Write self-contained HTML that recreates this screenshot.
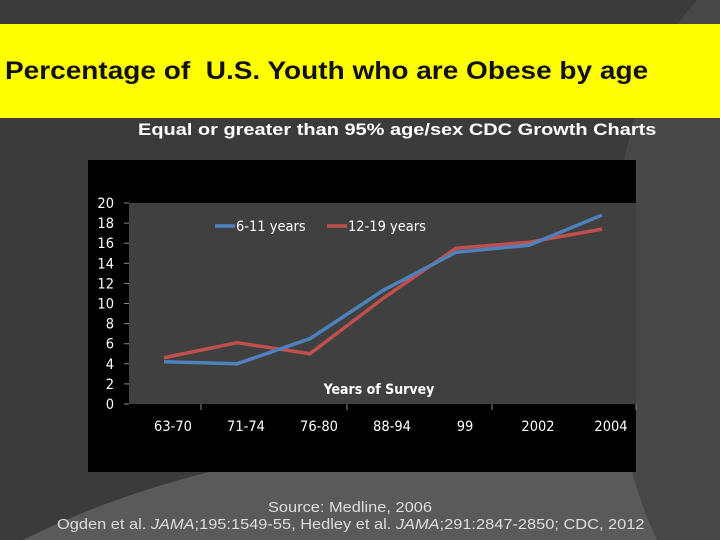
<!DOCTYPE html>
<html><head><meta charset="utf-8"><style>
html,body{margin:0;width:720px;height:540px;overflow:hidden}
body{background:#3b3b3b;font-family:"Liberation Sans",sans-serif;position:relative}
.sx{position:absolute;white-space:nowrap;transform-origin:0 0;line-height:1.15}
</style></head><body>
<svg width="720" height="540" style="position:absolute;left:0;top:0">
<ellipse cx="560" cy="760" rx="720" ry="330" fill="#5a5a5a"/>
<ellipse cx="760" cy="300" rx="150" ry="330" fill="#474747"/>
</svg>
<div style="position:absolute;left:0;top:24px;width:720px;height:94px;background:#ffff00"></div>
<div class="sx" style="left:5px;top:57px;font-size:25px;font-weight:bold;color:#111;transform:scaleX(1.12)">Percentage of&nbsp; U.S. Youth who are Obese by age</div>
<div class="sx" style="left:138px;top:120px;font-size:17px;font-weight:bold;color:#fff;transform:scaleX(1.175)">Equal or greater than 95% age/sex CDC Growth Charts</div>
<svg id="chart" width="720" height="540" style="position:absolute;left:0;top:0"></svg>
<div class="sx" style="left:268px;top:500px;font-size:14.5px;color:#ddd;transform:scaleX(1.13)">Source: Medline, 2006</div>
<div class="sx" style="left:57px;top:517px;font-size:14.5px;color:#ddd;transform:scaleX(1.13)">Ogden et al. <i>JAMA</i>;195:1549-55, Hedley et al. <i>JAMA</i>;291:2847-2850; CDC, 2012</div>
<script>
const categories=["63-70","71-74","76-80","88-94","99","2002","2004"];
const youth611=[4.2,4.0,6.5,11.3,15.1,15.8,18.8];
const youth1219=[4.6,6.1,5.0,10.5,15.5,16.1,17.4];
const yTicks=[0,2,4,6,8,10,12,14,16,18,20];
const NS="http://www.w3.org/2000/svg";
const svg=document.getElementById('chart');
function el(t,a,p){const e=document.createElementNS(NS,t);for(const k in a)e.setAttribute(k,a[k]);(p||svg).appendChild(e);return e;}
const L=129,R=636,T=203,B=404;
const y=v=>B-(v/20)*(B-T);
const x=i=>164+i*((602-164)/(categories.length-1));
const F='DejaVu Sans Condensed, Liberation Sans Narrow, sans-serif';
const box=el('rect',{x:88,y:160,width:548,height:312,fill:'#000'});

const plot=el('rect',{x:L,y:T,width:R-L,height:B-T,fill:'#404040'});

yTicks.forEach(v=>{
 const t=el('text',{x:114,y:y(v)+5,'text-anchor':'end',fill:'#fff','font-size':14.5,'font-family':F});t.textContent=v;
 
 el('line',{x1:124,x2:L,y1:y(v),y2:y(v),stroke:'#888'});
});
[201,347,492,636].forEach(px=>el('line',{x1:px,x2:px,y1:B,y2:B+6,stroke:'#888'}));
categories.forEach((c,i)=>{
 const t=el('text',{x:x(i)+9,y:431,'text-anchor':'middle',fill:'#fff','font-size':14.5,'font-family':F});t.textContent=c;
 
});
const xt=el('text',{x:379,y:394,'text-anchor':'middle',fill:'#fff','font-size':14,'font-weight':'bold','font-family':F});xt.textContent='Years of Survey';

function series(data,color,name){
 const p=el('polyline',{points:data.map((v,i)=>x(i)+','+y(v)).join(' '),fill:'none',stroke:color,'stroke-width':3.5,'stroke-linejoin':'round'});
 
}
series(youth1219,'#c0504d','series-12-19-years');
series(youth611,'#4f81bd','series-6-11-years');
[[215,'#4f81bd','6-11 years'],[327,'#c0504d','12-19 years']].forEach(([lx,c,lab])=>{
 const g=el('g',{});
 
 el('line',{x1:lx,x2:lx+20,y1:226,y2:226,stroke:c,'stroke-width':3.5},g);
 const t=el('text',{x:lx+21,y:231,fill:'#fff','font-size':14.5,'font-family':F},g);t.textContent=lab;
});
</script>
</body></html>
